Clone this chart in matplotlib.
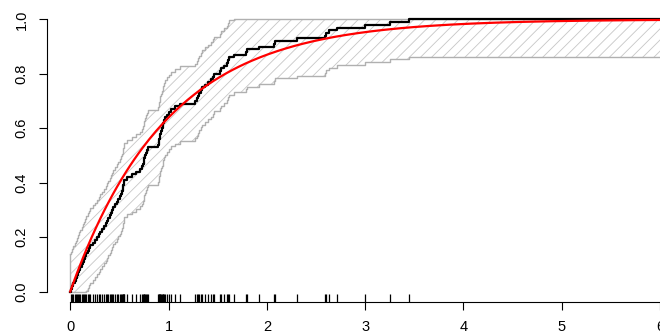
import numpy as np
import matplotlib
matplotlib.use("Agg")
import matplotlib.pyplot as plt

plt.rcParams['font.family'] = ['Liberation Sans', 'DejaVu Sans']
plt.rcParams['hatch.linewidth'] = 0.6

# observed sample (read from the rug / ecdf steps)
sample = [0.01, 0.02, 0.03, 0.045, 0.055, 0.065, 0.08, 0.09,
          0.10, 0.115, 0.125, 0.14,
          0.155, 0.165, 0.18, 0.19, 0.205,
          0.235, 0.25, 0.27,
          0.29, 0.305, 0.32, 0.34,
          0.36, 0.375, 0.385, 0.40, 0.41, 0.425, 0.44,
          0.46, 0.475, 0.49,
          0.51, 0.52, 0.53, 0.535, 0.54, 0.545, 0.55,
          0.58, 0.63,
          0.67, 0.71,
          0.73, 0.74, 0.75, 0.755, 0.76, 0.77, 0.78, 0.79,
          0.895, 0.90, 0.905, 0.91, 0.915, 0.92,
          0.93, 0.94, 0.945, 0.95, 0.96,
          0.98, 1.00, 1.03,
          1.07, 1.12,
          1.27, 1.29, 1.30, 1.315, 1.33,
          1.34, 1.37, 1.40, 1.43, 1.45, 1.46, 1.52, 1.53, 1.56,
          1.59, 1.60, 1.62,
          1.67, 1.79, 1.80, 1.92, 2.07, 2.08, 2.31, 2.59, 2.60, 2.63, 2.71,
          3.00, 3.25, 3.45]

band_eps = 0.137     # half width of the confidence band
red_rate = 1.02      # rate of the exponential cdf (red)
x_end = 6.5

xs_sorted = np.sort(sample)
n = len(xs_sorted)
xs = np.concatenate([[0.0], xs_sorted, [x_end]])
Fs = np.concatenate([[0.0], np.arange(1, n + 1) / n, [1.0]])
upper = np.clip(Fs + band_eps, 0, 1)
lower = np.clip(Fs - band_eps, 0, 1)

fig = plt.figure(figsize=(6.6, 3.34), dpi=100)
ax = fig.add_axes([0.0707, 0.0946, 0.965, 0.880])

ax.fill_between(xs, lower, upper, step='post', hatch='///',
                facecolor='none', edgecolor='#c6c6c6', linewidth=0)
ax.step(xs, upper, where='post', color='#b0b0b0', lw=1.0)
ax.step(xs, lower, where='post', color='#b0b0b0', lw=1.0)
ax.vlines(xs[0], lower[0], upper[0], color='#b0b0b0', lw=1.0)

ax.step(xs, Fs, where='post', color='black', lw=1.6)

xx = np.linspace(0, x_end, 300)
ax.plot(xx, 1 - np.exp(-red_rate * xx), color='red', lw=1.6)

# rug
ax.vlines(sample, 0, 0.03, transform=ax.get_xaxis_transform(),
          color='black', lw=0.9)

ax.set_xlim(-0.24, 6.24)
ax.set_ylim(-0.04, 1.04)
ax.set_xticks(range(0, 7))
ax.set_yticks([0.0, 0.2, 0.4, 0.6, 0.8, 1.0])
ax.set_yticklabels(['0.0', '0.2', '0.4', '0.6', '0.8', '1.0'])
for s in ['top', 'right']:
    ax.spines[s].set_visible(False)
ax.spines['left'].set_bounds(0, 1)
ax.spines['bottom'].set_bounds(0, 6)
ax.tick_params(axis='both', length=6, width=0.8, labelsize=10.5)
ax.tick_params(axis='x', pad=7)
ax.tick_params(axis='y', pad=7)
for lab in ax.get_yticklabels():
    lab.set_rotation(90)
    lab.set_va('center')

fig.savefig('out.png', dpi=100)
